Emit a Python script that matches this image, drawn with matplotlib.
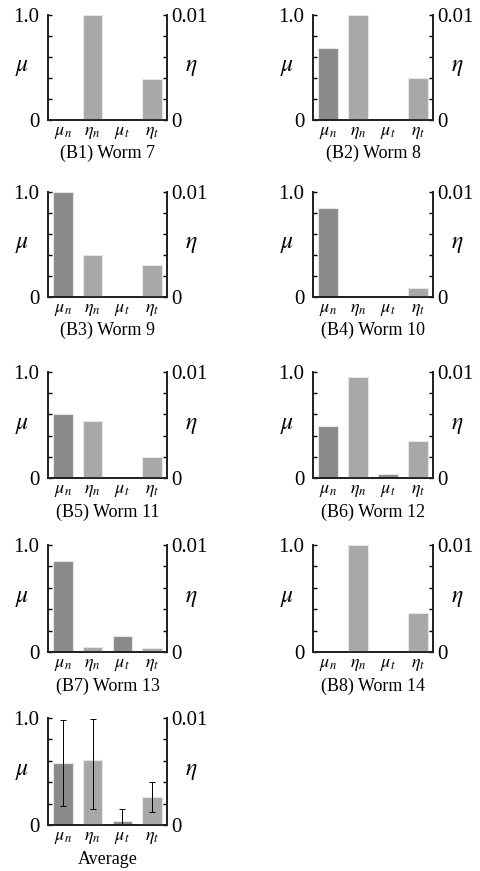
import matplotlib
matplotlib.use('Agg')
import matplotlib.pyplot as plt
import numpy as np

plt.rcParams['font.family'] = ['Liberation Serif', 'DejaVu Serif']
plt.rcParams['mathtext.fontset'] = 'stix'

# data
labels = [r'$\mu_n$', r'$\eta_n$', r'$\mu_t$', r'$\eta_t$']
titles = ['(B1) Worm 7', '(B2) Worm 8', '(B3) Worm 9', '(B4) Worm 10',
          '(B5) Worm 11', '(B6) Worm 12', '(B7) Worm 13', '(B8) Worm 14', 'Average']
mu_n = [0.0, 0.69, 1.0, 0.85, 0.60, 0.495, 0.85, 0.0, 0.578]
eta_n = [0.0100, 0.0100, 0.0040, 0.0, 0.0054, 0.0095, 0.0005, 0.0100, 0.0061]
mu_t = [0.0, 0.0, 0.0, 0.0, 0.0, 0.04, 0.152, 0.0, 0.0375]
eta_t = [0.0039, 0.0040, 0.0030, 0.0009, 0.0020, 0.0035, 0.0004, 0.0036, 0.0026]
# error bars of the average panel (lower, upper)
mu_err = [[0.398, 0.0375], [0.406, 0.110]]     # for mu_n, mu_t
eta_err = [[0.0046, 0.0014], [0.0038, 0.0014]]  # for eta_n, eta_t

W, H = 481, 871
col_left = [48, 313]
col_w = [119, 120]
row_top = [15, 192, 372, 545, 718]
row_h = [105, 105, 106, 107, 107]

mu_col = '#8a8a8a'
eta_col = '#a8a8a8'

fig = plt.figure(figsize=(W / 100, H / 100), dpi=100)

x = np.arange(4)
for i in range(9):
    r, c = divmod(i, 2)
    ax = fig.add_axes([col_left[c] / W, 1 - (row_top[r] + row_h[r]) / H,
                       col_w[c] / W, row_h[r] / H])
    ax2 = ax.twinx()
    avg = titles[i] == 'Average'
    ax.bar(x[[0, 2]], [mu_n[i], mu_t[i]], width=0.66, color=mu_col,
           edgecolor='#e6e6e6', linewidth=0.8,
           yerr=mu_err if avg else None,
           error_kw=dict(ecolor='black', elinewidth=0.7, capsize=2, capthick=0.7))
    ax2.bar(x[[1, 3]], [eta_n[i], eta_t[i]], width=0.66, color=eta_col,
            edgecolor='#e6e6e6', linewidth=0.8,
            yerr=eta_err if avg else None,
            error_kw=dict(ecolor='black', elinewidth=0.7, capsize=2, capthick=0.7))
    ax.set_xlim(-0.5, 3.5)
    ax.set_ylim(0, 1.0)
    ax2.set_ylim(0, 0.01)
    for a in (ax, ax2):
        a.spines['top'].set_visible(False)
        for s in ('left', 'right', 'bottom'):
            a.spines[s].set_linewidth(1.3)
            a.spines[s].set_color('#222222')
    ax.set_yticks(np.linspace(0, 1, 6))
    ax.set_yticklabels(['0', '', '', '', '', '1.0'])
    ax2.set_yticks(np.linspace(0, 0.01, 6))
    ax2.set_yticklabels(['0', '', '', '', '', '0.01'])
    ax.tick_params(axis='y', direction='in', length=3, width=1, labelsize=15, pad=6)
    ax2.tick_params(axis='y', direction='in', length=3, width=1, labelsize=15, pad=3)
    ax.set_xticks(x)
    ax.set_xticklabels(labels, fontsize=13)
    ax.tick_params(axis='x', length=0, pad=3)
    ax.text(-0.22, 0.5, r'$\mu$', transform=ax.transAxes, fontsize=17,
            ha='center', va='center')
    ax.text(1.20, 0.5, r'$\eta$', transform=ax.transAxes, fontsize=17,
            ha='center', va='center')
    ax.text(0.5, -0.32, titles[i], transform=ax.transAxes, ha='center',
            va='center', fontsize=13)

fig.savefig('out.png', dpi=100)
